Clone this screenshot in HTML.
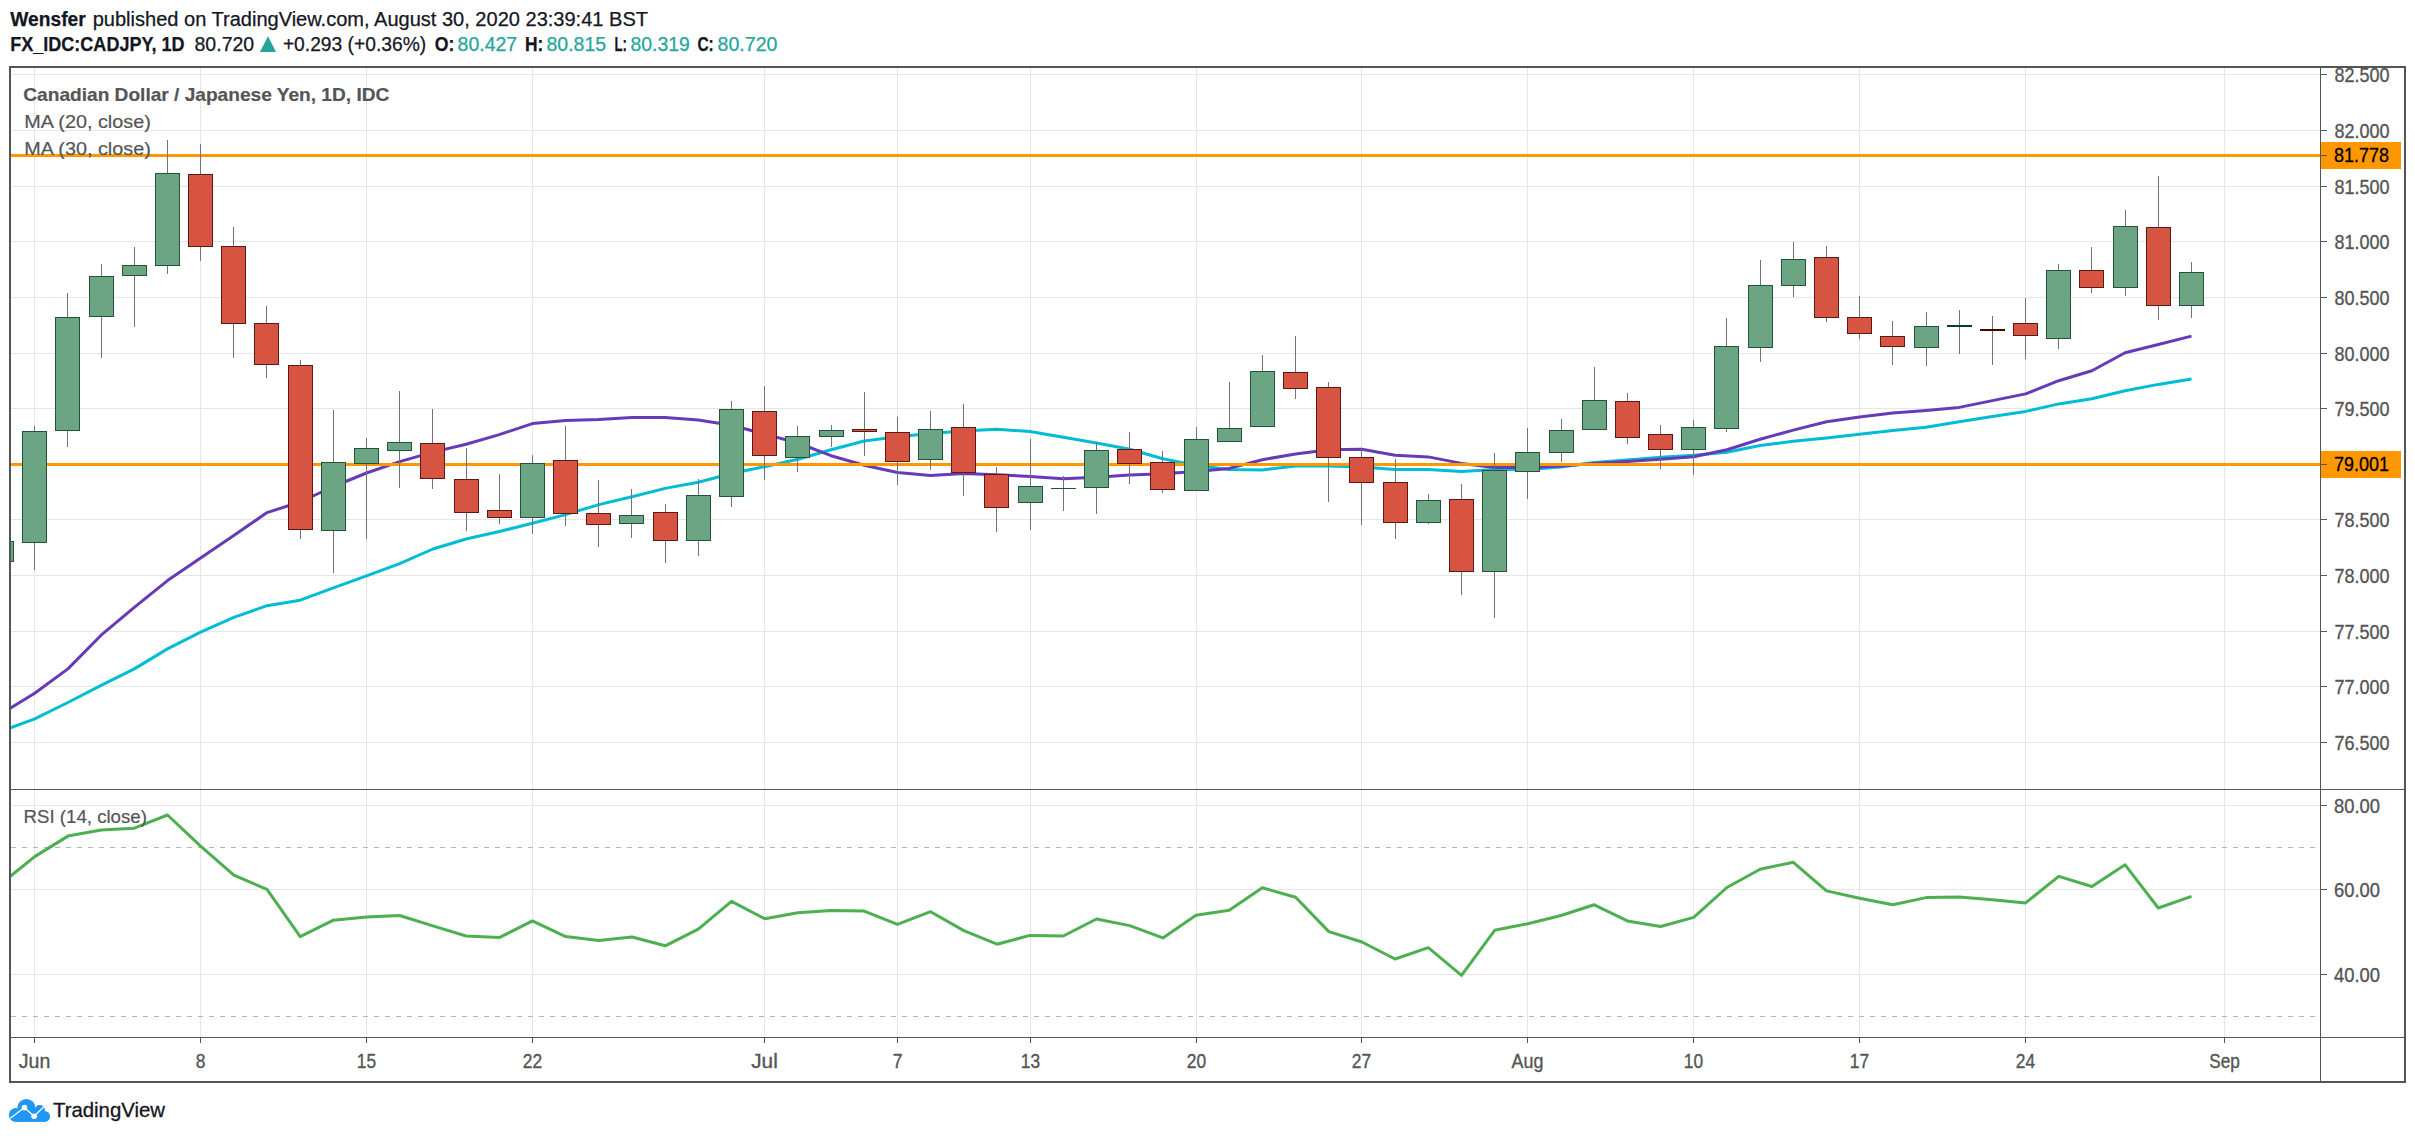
<!DOCTYPE html>
<html lang="en"><head><meta charset="utf-8"><title>CADJPY chart</title>
<style>
html,body{margin:0;padding:0;background:#fff}
body{width:2415px;height:1139px;overflow:hidden;position:relative}
svg{position:absolute;left:0;top:0;display:block}
text{font-family:"Liberation Sans",sans-serif;white-space:pre}
.b{font-weight:bold}
.ax{fill:#555;font-size:20px;stroke:#555;stroke-width:0.35px}
.hd{fill:#131722;font-size:20px;stroke:#131722;stroke-width:0.25px}
.tl{fill:#26a69a;font-size:20px;stroke:#26a69a;stroke-width:0.25px}
.lg{fill:#555;font-size:19px;stroke:#555;stroke-width:0.2px}
</style></head><body>
<svg width="2415" height="1139" viewBox="0 0 2415 1139">
<rect x="0" y="0" width="2415" height="1139" fill="#fff"/>
<defs><clipPath id="cm"><rect x="11" y="68" width="2309" height="721"/></clipPath><clipPath id="cr"><rect x="11" y="790" width="2309" height="247"/></clipPath></defs>
<g shape-rendering="crispEdges" fill="#e6e6e6">
<rect x="34" y="68" width="1" height="721"/><rect x="34" y="790" width="1" height="247"/>
<rect x="200" y="68" width="1" height="721"/><rect x="200" y="790" width="1" height="247"/>
<rect x="366" y="68" width="1" height="721"/><rect x="366" y="790" width="1" height="247"/>
<rect x="532" y="68" width="1" height="721"/><rect x="532" y="790" width="1" height="247"/>
<rect x="764" y="68" width="1" height="721"/><rect x="764" y="790" width="1" height="247"/>
<rect x="897" y="68" width="1" height="721"/><rect x="897" y="790" width="1" height="247"/>
<rect x="1030" y="68" width="1" height="721"/><rect x="1030" y="790" width="1" height="247"/>
<rect x="1196" y="68" width="1" height="721"/><rect x="1196" y="790" width="1" height="247"/>
<rect x="1361" y="68" width="1" height="721"/><rect x="1361" y="790" width="1" height="247"/>
<rect x="1527" y="68" width="1" height="721"/><rect x="1527" y="790" width="1" height="247"/>
<rect x="1693" y="68" width="1" height="721"/><rect x="1693" y="790" width="1" height="247"/>
<rect x="1859" y="68" width="1" height="721"/><rect x="1859" y="790" width="1" height="247"/>
<rect x="2025" y="68" width="1" height="721"/><rect x="2025" y="790" width="1" height="247"/>
<rect x="2224" y="68" width="1" height="721"/><rect x="2224" y="790" width="1" height="247"/>
<rect x="11" y="74" width="2309" height="1"/>
<rect x="11" y="130" width="2309" height="1"/>
<rect x="11" y="186" width="2309" height="1"/>
<rect x="11" y="241" width="2309" height="1"/>
<rect x="11" y="297" width="2309" height="1"/>
<rect x="11" y="353" width="2309" height="1"/>
<rect x="11" y="408" width="2309" height="1"/>
<rect x="11" y="464" width="2309" height="1"/>
<rect x="11" y="519" width="2309" height="1"/>
<rect x="11" y="575" width="2309" height="1"/>
<rect x="11" y="631" width="2309" height="1"/>
<rect x="11" y="686" width="2309" height="1"/>
<rect x="11" y="742" width="2309" height="1"/>
<rect x="11" y="805" width="2309" height="1"/>
<rect x="11" y="889" width="2309" height="1"/>
<rect x="11" y="974" width="2309" height="1"/>
</g>
<line x1="11" y1="847.5" x2="2320" y2="847.5" stroke="#b4b4b4" stroke-width="1" stroke-dasharray="5 6" shape-rendering="crispEdges"/>
<line x1="11" y1="1016.5" x2="2320" y2="1016.5" stroke="#b4b4b4" stroke-width="1" stroke-dasharray="5 6" shape-rendering="crispEdges"/>
<g clip-path="url(#cm)" fill="none" stroke-linejoin="round" stroke-linecap="butt">
<path d="M1.6,731.0 L34.7,718.8 L67.9,702.5 L101.1,685.3 L134.3,668.9 L167.5,648.9 L200.6,632.2 L233.8,617.3 L267.0,605.7 L300.2,600.2 L333.4,587.9 L366.5,575.8 L399.7,563.7 L432.9,549.0 L466.1,539.0 L499.3,531.5 L532.4,523.3 L565.6,514.6 L598.8,504.6 L632.0,496.7 L665.2,488.4 L698.3,482.2 L731.5,473.5 L764.7,466.7 L797.9,459.3 L831.1,449.8 L864.2,441.0 L897.4,436.8 L930.6,433.6 L963.8,431.1 L997.0,429.3 L1030.1,431.6 L1063.3,437.3 L1096.5,443.0 L1129.7,449.3 L1162.9,458.8 L1196.0,465.4 L1229.2,469.6 L1262.4,469.9 L1295.6,465.9 L1328.8,465.9 L1361.9,467.1 L1395.1,469.4 L1428.3,469.6 L1461.5,471.6 L1494.7,469.6 L1527.8,469.6 L1561.0,467.1 L1594.2,462.6 L1627.4,460.1 L1660.6,457.2 L1693.7,455.2 L1726.9,452.2 L1760.1,445.5 L1793.3,441.3 L1826.5,438.0 L1859.6,434.3 L1892.8,430.6 L1926.0,427.3 L1959.2,421.8 L1992.4,416.4 L2025.6,411.4 L2058.7,403.9 L2091.9,398.7 L2125.1,390.7 L2158.3,384.4 L2191.5,379.0" stroke="#00bcd4" stroke-width="3"/>
<path d="M1.6,713.5 L34.7,693.3 L67.9,668.9 L101.1,635.2 L134.3,607.3 L167.5,580.6 L200.6,557.9 L233.8,535.5 L267.0,512.6 L300.2,502.0 L333.4,486.5 L366.5,473.0 L399.7,461.6 L432.9,452.1 L466.1,444.2 L499.3,434.6 L532.4,423.6 L565.6,420.5 L598.8,419.5 L632.0,417.6 L665.2,417.6 L698.3,420.1 L731.5,425.3 L764.7,434.1 L797.9,443.0 L831.1,455.7 L864.2,465.2 L897.4,472.5 L930.6,475.5 L963.8,473.5 L997.0,474.7 L1030.1,476.5 L1063.3,478.7 L1096.5,477.2 L1129.7,475.0 L1162.9,473.7 L1196.0,471.6 L1229.2,468.4 L1262.4,459.7 L1295.6,453.9 L1328.8,449.7 L1361.9,449.2 L1395.1,455.2 L1428.3,456.9 L1461.5,463.4 L1494.7,467.6 L1527.8,467.6 L1561.0,465.9 L1594.2,463.4 L1627.4,461.6 L1660.6,459.2 L1693.7,456.7 L1726.9,449.7 L1760.1,439.3 L1793.3,430.1 L1826.5,421.8 L1859.6,416.9 L1892.8,412.9 L1926.0,410.4 L1959.2,407.4 L1992.4,400.6 L2025.6,393.9 L2058.7,380.7 L2091.9,370.7 L2125.1,352.8 L2158.3,344.5 L2191.5,336.1" stroke="#673ab7" stroke-width="3"/>
</g>
<g shape-rendering="crispEdges" fill="#ff9800">
<rect x="11" y="154" width="2309" height="3"/><rect x="11" y="463" width="2309" height="3"/>
</g>
<g clip-path="url(#cm)" shape-rendering="crispEdges">
<rect x="1" y="541" width="1" height="21" fill="#737375"/><rect x="-11" y="541" width="25" height="21" fill="#225437"/><rect x="-10" y="542" width="23" height="19" fill="#6ba583"/>
<rect x="34" y="426" width="1" height="144" fill="#737375"/><rect x="22" y="431" width="25" height="112" fill="#225437"/><rect x="23" y="432" width="23" height="110" fill="#6ba583"/>
<rect x="67" y="293" width="1" height="154" fill="#737375"/><rect x="55" y="317" width="25" height="114" fill="#225437"/><rect x="56" y="318" width="23" height="112" fill="#6ba583"/>
<rect x="101" y="264" width="1" height="94" fill="#737375"/><rect x="89" y="276" width="25" height="41" fill="#225437"/><rect x="90" y="277" width="23" height="39" fill="#6ba583"/>
<rect x="134" y="247" width="1" height="80" fill="#737375"/><rect x="122" y="265" width="25" height="11" fill="#225437"/><rect x="123" y="266" width="23" height="9" fill="#6ba583"/>
<rect x="167" y="140" width="1" height="134" fill="#737375"/><rect x="155" y="173" width="25" height="93" fill="#225437"/><rect x="156" y="174" width="23" height="91" fill="#6ba583"/>
<rect x="200" y="144" width="1" height="117" fill="#737375"/><rect x="188" y="174" width="25" height="73" fill="#5b1a13"/><rect x="189" y="175" width="23" height="71" fill="#d75442"/>
<rect x="233" y="227" width="1" height="131" fill="#737375"/><rect x="221" y="246" width="25" height="78" fill="#5b1a13"/><rect x="222" y="247" width="23" height="76" fill="#d75442"/>
<rect x="266" y="306" width="1" height="72" fill="#737375"/><rect x="254" y="323" width="25" height="42" fill="#5b1a13"/><rect x="255" y="324" width="23" height="40" fill="#d75442"/>
<rect x="300" y="360" width="1" height="179" fill="#737375"/><rect x="288" y="365" width="25" height="165" fill="#5b1a13"/><rect x="289" y="366" width="23" height="163" fill="#d75442"/>
<rect x="333" y="410" width="1" height="163" fill="#737375"/><rect x="321" y="462" width="25" height="69" fill="#225437"/><rect x="322" y="463" width="23" height="67" fill="#6ba583"/>
<rect x="366" y="438" width="1" height="101" fill="#737375"/><rect x="354" y="448" width="25" height="16" fill="#225437"/><rect x="355" y="449" width="23" height="14" fill="#6ba583"/>
<rect x="399" y="391" width="1" height="97" fill="#737375"/><rect x="387" y="442" width="25" height="9" fill="#225437"/><rect x="388" y="443" width="23" height="7" fill="#6ba583"/>
<rect x="432" y="409" width="1" height="80" fill="#737375"/><rect x="420" y="443" width="25" height="36" fill="#5b1a13"/><rect x="421" y="444" width="23" height="34" fill="#d75442"/>
<rect x="466" y="448" width="1" height="83" fill="#737375"/><rect x="454" y="479" width="25" height="34" fill="#5b1a13"/><rect x="455" y="480" width="23" height="32" fill="#d75442"/>
<rect x="499" y="474" width="1" height="50" fill="#737375"/><rect x="487" y="510" width="25" height="8" fill="#5b1a13"/><rect x="488" y="511" width="23" height="6" fill="#d75442"/>
<rect x="532" y="455" width="1" height="79" fill="#737375"/><rect x="520" y="463" width="25" height="55" fill="#225437"/><rect x="521" y="464" width="23" height="53" fill="#6ba583"/>
<rect x="565" y="426" width="1" height="100" fill="#737375"/><rect x="553" y="460" width="25" height="54" fill="#5b1a13"/><rect x="554" y="461" width="23" height="52" fill="#d75442"/>
<rect x="598" y="480" width="1" height="67" fill="#737375"/><rect x="586" y="513" width="25" height="12" fill="#5b1a13"/><rect x="587" y="514" width="23" height="10" fill="#d75442"/>
<rect x="631" y="489" width="1" height="49" fill="#737375"/><rect x="619" y="515" width="25" height="9" fill="#225437"/><rect x="620" y="516" width="23" height="7" fill="#6ba583"/>
<rect x="665" y="504" width="1" height="59" fill="#737375"/><rect x="653" y="512" width="25" height="29" fill="#5b1a13"/><rect x="654" y="513" width="23" height="27" fill="#d75442"/>
<rect x="698" y="479" width="1" height="77" fill="#737375"/><rect x="686" y="495" width="25" height="46" fill="#225437"/><rect x="687" y="496" width="23" height="44" fill="#6ba583"/>
<rect x="731" y="401" width="1" height="106" fill="#737375"/><rect x="719" y="409" width="25" height="88" fill="#225437"/><rect x="720" y="410" width="23" height="86" fill="#6ba583"/>
<rect x="764" y="386" width="1" height="94" fill="#737375"/><rect x="752" y="411" width="25" height="45" fill="#5b1a13"/><rect x="753" y="412" width="23" height="43" fill="#d75442"/>
<rect x="797" y="426" width="1" height="46" fill="#737375"/><rect x="785" y="436" width="25" height="22" fill="#225437"/><rect x="786" y="437" width="23" height="20" fill="#6ba583"/>
<rect x="831" y="425" width="1" height="22" fill="#737375"/><rect x="819" y="430" width="25" height="7" fill="#225437"/><rect x="820" y="431" width="23" height="5" fill="#6ba583"/>
<rect x="864" y="392" width="1" height="64" fill="#737375"/><rect x="852" y="429" width="25" height="3" fill="#5b1a13"/><rect x="853" y="430" width="23" height="1" fill="#d75442"/>
<rect x="897" y="417" width="1" height="68" fill="#737375"/><rect x="885" y="432" width="25" height="30" fill="#5b1a13"/><rect x="886" y="433" width="23" height="28" fill="#d75442"/>
<rect x="930" y="411" width="1" height="59" fill="#737375"/><rect x="918" y="429" width="25" height="31" fill="#225437"/><rect x="919" y="430" width="23" height="29" fill="#6ba583"/>
<rect x="963" y="404" width="1" height="92" fill="#737375"/><rect x="951" y="427" width="25" height="46" fill="#5b1a13"/><rect x="952" y="428" width="23" height="44" fill="#d75442"/>
<rect x="996" y="467" width="1" height="65" fill="#737375"/><rect x="984" y="474" width="25" height="34" fill="#5b1a13"/><rect x="985" y="475" width="23" height="32" fill="#d75442"/>
<rect x="1030" y="439" width="1" height="91" fill="#737375"/><rect x="1018" y="486" width="25" height="17" fill="#225437"/><rect x="1019" y="487" width="23" height="15" fill="#6ba583"/>
<rect x="1063" y="476" width="1" height="35" fill="#737375"/><rect x="1051" y="488" width="25" height="1" fill="#225437"/>
<rect x="1096" y="442" width="1" height="72" fill="#737375"/><rect x="1084" y="450" width="25" height="38" fill="#225437"/><rect x="1085" y="451" width="23" height="36" fill="#6ba583"/>
<rect x="1129" y="432" width="1" height="52" fill="#737375"/><rect x="1117" y="449" width="25" height="15" fill="#5b1a13"/><rect x="1118" y="450" width="23" height="13" fill="#d75442"/>
<rect x="1162" y="451" width="1" height="42" fill="#737375"/><rect x="1150" y="462" width="25" height="28" fill="#5b1a13"/><rect x="1151" y="463" width="23" height="26" fill="#d75442"/>
<rect x="1196" y="427" width="1" height="64" fill="#737375"/><rect x="1184" y="439" width="25" height="52" fill="#225437"/><rect x="1185" y="440" width="23" height="50" fill="#6ba583"/>
<rect x="1229" y="382" width="1" height="60" fill="#737375"/><rect x="1217" y="428" width="25" height="14" fill="#225437"/><rect x="1218" y="429" width="23" height="12" fill="#6ba583"/>
<rect x="1262" y="355" width="1" height="72" fill="#737375"/><rect x="1250" y="371" width="25" height="56" fill="#225437"/><rect x="1251" y="372" width="23" height="54" fill="#6ba583"/>
<rect x="1295" y="336" width="1" height="63" fill="#737375"/><rect x="1283" y="372" width="25" height="17" fill="#5b1a13"/><rect x="1284" y="373" width="23" height="15" fill="#d75442"/>
<rect x="1328" y="382" width="1" height="120" fill="#737375"/><rect x="1316" y="387" width="25" height="71" fill="#5b1a13"/><rect x="1317" y="388" width="23" height="69" fill="#d75442"/>
<rect x="1361" y="449" width="1" height="76" fill="#737375"/><rect x="1349" y="457" width="25" height="26" fill="#5b1a13"/><rect x="1350" y="458" width="23" height="24" fill="#d75442"/>
<rect x="1395" y="459" width="1" height="80" fill="#737375"/><rect x="1383" y="482" width="25" height="41" fill="#5b1a13"/><rect x="1384" y="483" width="23" height="39" fill="#d75442"/>
<rect x="1428" y="494" width="1" height="30" fill="#737375"/><rect x="1416" y="500" width="25" height="23" fill="#225437"/><rect x="1417" y="501" width="23" height="21" fill="#6ba583"/>
<rect x="1461" y="484" width="1" height="111" fill="#737375"/><rect x="1449" y="499" width="25" height="73" fill="#5b1a13"/><rect x="1450" y="500" width="23" height="71" fill="#d75442"/>
<rect x="1494" y="453" width="1" height="165" fill="#737375"/><rect x="1482" y="470" width="25" height="102" fill="#225437"/><rect x="1483" y="471" width="23" height="100" fill="#6ba583"/>
<rect x="1527" y="428" width="1" height="71" fill="#737375"/><rect x="1515" y="452" width="25" height="20" fill="#225437"/><rect x="1516" y="453" width="23" height="18" fill="#6ba583"/>
<rect x="1561" y="419" width="1" height="43" fill="#737375"/><rect x="1549" y="430" width="25" height="23" fill="#225437"/><rect x="1550" y="431" width="23" height="21" fill="#6ba583"/>
<rect x="1594" y="367" width="1" height="63" fill="#737375"/><rect x="1582" y="400" width="25" height="30" fill="#225437"/><rect x="1583" y="401" width="23" height="28" fill="#6ba583"/>
<rect x="1627" y="393" width="1" height="51" fill="#737375"/><rect x="1615" y="401" width="25" height="37" fill="#5b1a13"/><rect x="1616" y="402" width="23" height="35" fill="#d75442"/>
<rect x="1660" y="425" width="1" height="44" fill="#737375"/><rect x="1648" y="434" width="25" height="16" fill="#5b1a13"/><rect x="1649" y="435" width="23" height="14" fill="#d75442"/>
<rect x="1693" y="420" width="1" height="55" fill="#737375"/><rect x="1681" y="427" width="25" height="23" fill="#225437"/><rect x="1682" y="428" width="23" height="21" fill="#6ba583"/>
<rect x="1726" y="318" width="1" height="114" fill="#737375"/><rect x="1714" y="346" width="25" height="83" fill="#225437"/><rect x="1715" y="347" width="23" height="81" fill="#6ba583"/>
<rect x="1760" y="260" width="1" height="102" fill="#737375"/><rect x="1748" y="285" width="25" height="63" fill="#225437"/><rect x="1749" y="286" width="23" height="61" fill="#6ba583"/>
<rect x="1793" y="242" width="1" height="55" fill="#737375"/><rect x="1781" y="259" width="25" height="27" fill="#225437"/><rect x="1782" y="260" width="23" height="25" fill="#6ba583"/>
<rect x="1826" y="246" width="1" height="76" fill="#737375"/><rect x="1814" y="257" width="25" height="61" fill="#5b1a13"/><rect x="1815" y="258" width="23" height="59" fill="#d75442"/>
<rect x="1859" y="296" width="1" height="43" fill="#737375"/><rect x="1847" y="317" width="25" height="17" fill="#5b1a13"/><rect x="1848" y="318" width="23" height="15" fill="#d75442"/>
<rect x="1892" y="321" width="1" height="44" fill="#737375"/><rect x="1880" y="336" width="25" height="11" fill="#5b1a13"/><rect x="1881" y="337" width="23" height="9" fill="#d75442"/>
<rect x="1926" y="312" width="1" height="54" fill="#737375"/><rect x="1914" y="326" width="25" height="22" fill="#225437"/><rect x="1915" y="327" width="23" height="20" fill="#6ba583"/>
<rect x="1959" y="310" width="1" height="44" fill="#737375"/><rect x="1947" y="325" width="25" height="2" fill="#0b3d20"/>
<rect x="1992" y="316" width="1" height="49" fill="#737375"/><rect x="1980" y="329" width="25" height="2" fill="#4a0500"/>
<rect x="2025" y="298" width="1" height="61" fill="#737375"/><rect x="2013" y="323" width="25" height="13" fill="#5b1a13"/><rect x="2014" y="324" width="23" height="11" fill="#d75442"/>
<rect x="2058" y="264" width="1" height="85" fill="#737375"/><rect x="2046" y="270" width="25" height="69" fill="#225437"/><rect x="2047" y="271" width="23" height="67" fill="#6ba583"/>
<rect x="2091" y="247" width="1" height="46" fill="#737375"/><rect x="2079" y="270" width="25" height="18" fill="#5b1a13"/><rect x="2080" y="271" width="23" height="16" fill="#d75442"/>
<rect x="2125" y="210" width="1" height="86" fill="#737375"/><rect x="2113" y="226" width="25" height="62" fill="#225437"/><rect x="2114" y="227" width="23" height="60" fill="#6ba583"/>
<rect x="2158" y="176" width="1" height="144" fill="#737375"/><rect x="2146" y="227" width="25" height="79" fill="#5b1a13"/><rect x="2147" y="228" width="23" height="77" fill="#d75442"/>
<rect x="2191" y="262" width="1" height="56" fill="#737375"/><rect x="2179" y="272" width="25" height="34" fill="#225437"/><rect x="2180" y="273" width="23" height="32" fill="#6ba583"/>
</g>
<g clip-path="url(#cr)" fill="none" stroke-linejoin="round" stroke-linecap="butt">
<path d="M1.6,883.3 L34.7,856.6 L67.9,836.1 L101.1,830.1 L134.3,828.2 L167.5,815.0 L200.6,846.2 L233.8,875.2 L267.0,889.4 L300.2,936.6 L333.4,920.2 L366.5,917.1 L399.7,915.5 L432.9,925.9 L466.1,936.0 L499.3,937.6 L532.4,920.9 L565.6,936.6 L598.8,940.5 L632.0,937.0 L665.2,945.8 L698.3,929.1 L731.5,901.3 L764.7,918.7 L797.9,912.7 L831.1,910.5 L864.2,911.1 L897.4,924.3 L930.6,911.7 L963.8,930.6 L997.0,944.2 L1030.1,935.4 L1063.3,936.0 L1096.5,919.0 L1129.7,925.6 L1162.9,937.9 L1196.0,915.2 L1229.2,910.2 L1262.4,887.8 L1295.6,897.2 L1328.8,931.6 L1361.9,942.0 L1395.1,959.0 L1428.3,947.7 L1461.5,975.4 L1494.7,930.3 L1527.8,923.7 L1561.0,915.5 L1594.2,904.8 L1627.4,920.9 L1660.6,926.5 L1693.7,917.4 L1726.9,887.5 L1760.1,869.2 L1793.3,862.3 L1826.5,890.9 L1859.6,898.2 L1892.8,904.8 L1926.0,897.6 L1959.2,896.9 L1992.4,899.8 L2025.6,902.9 L2058.7,876.4 L2091.9,886.5 L2125.1,864.8 L2158.3,908.0 L2191.5,896.3" stroke="#4caf50" stroke-width="3"/>
</g>
<g shape-rendering="crispEdges" fill="#555">
<rect x="9" y="66" width="2397" height="2"/><rect x="9" y="1081" width="2397" height="2"/><rect x="9" y="66" width="2" height="1017"/><rect x="2404" y="66" width="2" height="1017"/>
<rect x="2320" y="68" width="1" height="1013"/>
<rect x="11" y="789" width="2393" height="1"/><rect x="11" y="1037" width="2393" height="1"/>
<rect x="2321" y="74" width="6" height="1"/><rect x="2321" y="130" width="6" height="1"/><rect x="2321" y="186" width="6" height="1"/><rect x="2321" y="241" width="6" height="1"/><rect x="2321" y="297" width="6" height="1"/><rect x="2321" y="353" width="6" height="1"/><rect x="2321" y="408" width="6" height="1"/><rect x="2321" y="464" width="6" height="1"/><rect x="2321" y="519" width="6" height="1"/><rect x="2321" y="575" width="6" height="1"/><rect x="2321" y="631" width="6" height="1"/><rect x="2321" y="686" width="6" height="1"/><rect x="2321" y="742" width="6" height="1"/><rect x="2321" y="805" width="6" height="1"/><rect x="2321" y="889" width="6" height="1"/><rect x="2321" y="974" width="6" height="1"/>
<rect x="34" y="1038" width="1" height="5"/><rect x="200" y="1038" width="1" height="5"/><rect x="366" y="1038" width="1" height="5"/><rect x="532" y="1038" width="1" height="5"/><rect x="764" y="1038" width="1" height="5"/><rect x="897" y="1038" width="1" height="5"/><rect x="1030" y="1038" width="1" height="5"/><rect x="1196" y="1038" width="1" height="5"/><rect x="1361" y="1038" width="1" height="5"/><rect x="1527" y="1038" width="1" height="5"/><rect x="1693" y="1038" width="1" height="5"/><rect x="1859" y="1038" width="1" height="5"/><rect x="2025" y="1038" width="1" height="5"/><rect x="2224" y="1038" width="1" height="5"/>
</g>
<text class="ax" x="2334.5" y="82.1" textLength="55" lengthAdjust="spacingAndGlyphs">82.500</text>
<text class="ax" x="2334.5" y="138.1" textLength="55" lengthAdjust="spacingAndGlyphs">82.000</text>
<text class="ax" x="2334.5" y="194.1" textLength="55" lengthAdjust="spacingAndGlyphs">81.500</text>
<text class="ax" x="2334.5" y="249.1" textLength="55" lengthAdjust="spacingAndGlyphs">81.000</text>
<text class="ax" x="2334.5" y="305.1" textLength="55" lengthAdjust="spacingAndGlyphs">80.500</text>
<text class="ax" x="2334.5" y="361.1" textLength="55" lengthAdjust="spacingAndGlyphs">80.000</text>
<text class="ax" x="2334.5" y="416.1" textLength="55" lengthAdjust="spacingAndGlyphs">79.500</text>
<text class="ax" x="2334.5" y="472.1" textLength="55" lengthAdjust="spacingAndGlyphs">79.000</text>
<text class="ax" x="2334.5" y="527.1" textLength="55" lengthAdjust="spacingAndGlyphs">78.500</text>
<text class="ax" x="2334.5" y="583.1" textLength="55" lengthAdjust="spacingAndGlyphs">78.000</text>
<text class="ax" x="2334.5" y="639.1" textLength="55" lengthAdjust="spacingAndGlyphs">77.500</text>
<text class="ax" x="2334.5" y="694.1" textLength="55" lengthAdjust="spacingAndGlyphs">77.000</text>
<text class="ax" x="2334.5" y="750.1" textLength="55" lengthAdjust="spacingAndGlyphs">76.500</text>
<text class="ax" x="2334" y="813.1" textLength="46" lengthAdjust="spacingAndGlyphs">80.00</text>
<text class="ax" x="2334" y="897.1" textLength="46" lengthAdjust="spacingAndGlyphs">60.00</text>
<text class="ax" x="2334" y="982.1" textLength="46" lengthAdjust="spacingAndGlyphs">40.00</text>
<rect x="2321" y="142" width="80" height="27" fill="#ff9800" shape-rendering="crispEdges"/><rect x="2321" y="155" width="6" height="1" fill="#555" shape-rendering="crispEdges"/><text x="2334" y="162.3" font-size="20" fill="#000" stroke="#000" stroke-width="0.3" textLength="55" lengthAdjust="spacingAndGlyphs">81.778</text>
<rect x="2321" y="451" width="80" height="27" fill="#ff9800" shape-rendering="crispEdges"/><rect x="2321" y="464" width="6" height="1" fill="#555" shape-rendering="crispEdges"/><text x="2334" y="471.3" font-size="20" fill="#000" stroke="#000" stroke-width="0.3" textLength="55" lengthAdjust="spacingAndGlyphs">79.001</text>
<text class="ax" x="34.5" y="1068" text-anchor="middle" textLength="31.5" lengthAdjust="spacingAndGlyphs">Jun</text>
<text class="ax" x="200.5" y="1068" text-anchor="middle" textLength="9.7" lengthAdjust="spacingAndGlyphs">8</text>
<text class="ax" x="366.5" y="1068" text-anchor="middle" textLength="19.3" lengthAdjust="spacingAndGlyphs">15</text>
<text class="ax" x="532.5" y="1068" text-anchor="middle" textLength="19.3" lengthAdjust="spacingAndGlyphs">22</text>
<text class="ax" x="764.5" y="1068" text-anchor="middle" textLength="26.5" lengthAdjust="spacingAndGlyphs">Jul</text>
<text class="ax" x="897.5" y="1068" text-anchor="middle" textLength="9.7" lengthAdjust="spacingAndGlyphs">7</text>
<text class="ax" x="1030.5" y="1068" text-anchor="middle" textLength="19.3" lengthAdjust="spacingAndGlyphs">13</text>
<text class="ax" x="1196.5" y="1068" text-anchor="middle" textLength="19.3" lengthAdjust="spacingAndGlyphs">20</text>
<text class="ax" x="1361.5" y="1068" text-anchor="middle" textLength="19.3" lengthAdjust="spacingAndGlyphs">27</text>
<text class="ax" x="1527.5" y="1068" text-anchor="middle" textLength="31.8" lengthAdjust="spacingAndGlyphs">Aug</text>
<text class="ax" x="1693.5" y="1068" text-anchor="middle" textLength="19.3" lengthAdjust="spacingAndGlyphs">10</text>
<text class="ax" x="1859.5" y="1068" text-anchor="middle" textLength="19.3" lengthAdjust="spacingAndGlyphs">17</text>
<text class="ax" x="2025.5" y="1068" text-anchor="middle" textLength="19.3" lengthAdjust="spacingAndGlyphs">24</text>
<text class="ax" x="2224.5" y="1068" text-anchor="middle" textLength="30.6" lengthAdjust="spacingAndGlyphs">Sep</text>
<text class="lg b" x="23.3" y="100.8" textLength="366" lengthAdjust="spacingAndGlyphs">Canadian Dollar / Japanese Yen, 1D, IDC</text>
<text class="lg" x="24.2" y="128" textLength="126.6" lengthAdjust="spacingAndGlyphs">MA (20, close)</text>
<text class="lg" x="24.2" y="154.7" textLength="126.6" lengthAdjust="spacingAndGlyphs">MA (30, close)</text>
<text class="lg" x="23.6" y="823" textLength="123.3" lengthAdjust="spacingAndGlyphs">RSI (14, close)</text>
<text class="hd b" x="10.3" y="26" textLength="75.5" lengthAdjust="spacingAndGlyphs">Wensfer</text>
<text class="hd" x="92.7" y="26" textLength="555.3" lengthAdjust="spacingAndGlyphs">published on TradingView.com, August 30, 2020 23:39:41 BST</text>
<text class="hd b" x="10.3" y="51.3" textLength="174.2" lengthAdjust="spacingAndGlyphs">FX_IDC:CADJPY, 1D</text>
<text class="hd" x="194.5" y="51.3" textLength="59.7" lengthAdjust="spacingAndGlyphs">80.720</text>
<path d="M259.9 51.9 L276.1 51.9 L268 36.2 Z" fill="#26a69a"/>
<text class="hd" x="282.9" y="51.3" textLength="143.3" lengthAdjust="spacingAndGlyphs">+0.293 (+0.36%)</text>
<text class="hd b" x="434.7" y="51.3" textLength="19.6" lengthAdjust="spacingAndGlyphs">O:</text>
<text class="tl" x="457.6" y="51.3" textLength="59.6" lengthAdjust="spacingAndGlyphs">80.427</text>
<text class="hd b" x="525" y="51.3" textLength="18.4" lengthAdjust="spacingAndGlyphs">H:</text>
<text class="tl" x="546.5" y="51.3" textLength="59.6" lengthAdjust="spacingAndGlyphs">80.815</text>
<text class="hd b" x="614.4" y="51.3" textLength="12.5" lengthAdjust="spacingAndGlyphs">L:</text>
<text class="tl" x="630.5" y="51.3" textLength="59.3" lengthAdjust="spacingAndGlyphs">80.319</text>
<text class="hd b" x="697.4" y="51.3" textLength="16.4" lengthAdjust="spacingAndGlyphs">C:</text>
<text class="tl" x="717.6" y="51.3" textLength="59.8" lengthAdjust="spacingAndGlyphs">80.720</text>
<g fill="#2196f3"><circle cx="15.9" cy="1114.95" r="7"/><circle cx="26.4" cy="1108" r="9.1"/><circle cx="39.8" cy="1110" r="5.1"/><circle cx="44.6" cy="1116.4" r="5.5"/><rect x="15.9" y="1109" width="28.7" height="12.9"/></g>
<path d="M10.3 1118.2 L24.4 1107.6 L34.1 1116.3 L44 1106.6" fill="none" stroke="#fff" stroke-width="1.3"/>
<circle cx="24.4" cy="1107.6" r="2.8" fill="#fff"/><circle cx="34.1" cy="1116.3" r="2.8" fill="#fff"/>
<text x="53" y="1116.5" font-size="19.8" fill="#131722" stroke="#131722" stroke-width="0.3" textLength="112" lengthAdjust="spacingAndGlyphs">TradingView</text>
</svg>
</body></html>
